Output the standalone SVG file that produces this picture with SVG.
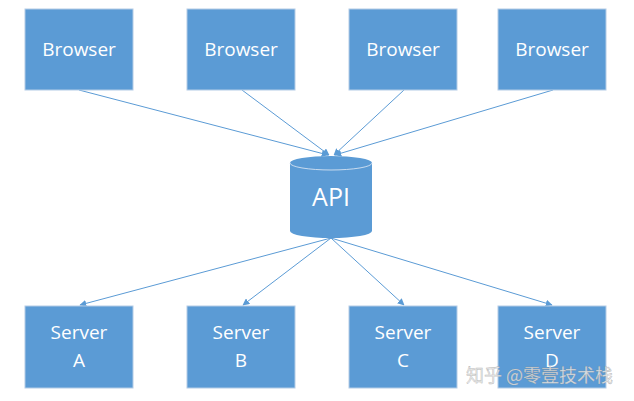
<svg xmlns="http://www.w3.org/2000/svg" width="634" height="401" viewBox="0 0 634 401">
<style>
.box{fill:#5b9bd5;stroke:#b4cce6;stroke-width:1}
.lbl{font-family:"Open Sans","Liberation Sans",sans-serif;font-size:19px;fill:#ffffff;text-anchor:middle}
.con{stroke:#5b9bd5;stroke-width:1;fill:none;marker-end:url(#ah)}
</style>
<defs>
<marker id="ah" viewBox="0 0 10 10" refX="9" refY="5" markerWidth="7" markerHeight="7" orient="auto" markerUnits="userSpaceOnUse">
<path d="M0,0 L10,5 L0,10 z" fill="#5b9bd5"/>
</marker>
</defs>
<rect width="634" height="401" fill="#ffffff"/>
<g id="connectors">
<line class="con" x1="79" y1="90" x2="328" y2="155"/>
<line class="con" x1="242" y1="90" x2="329" y2="155"/>
<line class="con" x1="404" y1="90" x2="334" y2="155"/>
<line class="con" x1="553" y1="90" x2="335" y2="155"/>
<line class="con" x1="331" y1="238" x2="80" y2="305"/>
<line class="con" x1="331" y1="238" x2="243" y2="305"/>
<line class="con" x1="331" y1="238" x2="404" y2="305"/>
<line class="con" x1="331" y1="238" x2="552" y2="305"/>
</g>
<g id="browser1"><rect class="box" x="25" y="9" width="108" height="81"/><text class="lbl" x="79" y="56">Browser</text></g>
<g id="browser2"><rect class="box" x="187" y="9" width="108" height="81"/><text class="lbl" x="241" y="56">Browser</text></g>
<g id="browser3"><rect class="box" x="349" y="9" width="108" height="81"/><text class="lbl" x="403" y="56">Browser</text></g>
<g id="browser4"><rect class="box" x="498" y="9" width="108" height="81"/><text class="lbl" x="552" y="56">Browser</text></g>
<g id="api">
<path d="M290,163 L290,231 A41,7 0 0 0 372,231 L372,163 A41,7 0 0 0 290,163 Z" fill="#5b9bd5"/>
<path d="M290,163 A41,7 0 0 0 372,163" fill="none" stroke="#c9dbef" stroke-width="1"/>
<text class="lbl" x="331" y="206" style="font-size:25px">API</text>
</g>
<g id="serverA"><rect class="box" x="25" y="306" width="108" height="82"/><text class="lbl" x="79" y="339">Server</text><text class="lbl" x="79" y="367">A</text></g>
<g id="serverB"><rect class="box" x="187" y="306" width="108" height="82"/><text class="lbl" x="241" y="339">Server</text><text class="lbl" x="241" y="367">B</text></g>
<g id="serverC"><rect class="box" x="349" y="306" width="108" height="82"/><text class="lbl" x="403" y="339">Server</text><text class="lbl" x="403" y="367">C</text></g>
<g id="serverD"><rect class="box" x="498" y="306" width="108" height="82"/><text class="lbl" x="552" y="339">Server</text><text class="lbl" x="552" y="367">D</text></g>
<text x="466" y="382" style="font-family:'Noto Sans CJK SC',sans-serif;font-size:18px;fill:#e6e6e6;fill-opacity:0.9;stroke:#8a8a8a;stroke-width:0.4;stroke-opacity:0.6">知乎 @零壹技术栈</text>
</svg>
